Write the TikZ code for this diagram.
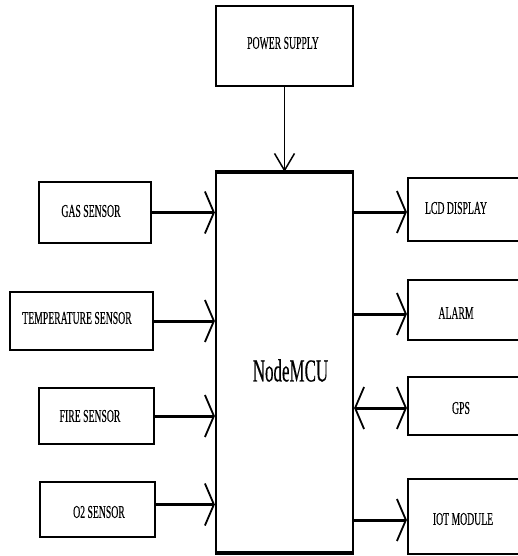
\documentclass[tikz,border=0pt]{standalone}
\usepackage{fontspec}
\setmainfont{Liberation Serif}
\newfontfamily\lblfont{Liberation Serif}[FakeBold=0.4]
\usepackage{graphicx}
\usetikzlibrary{arrows.meta}
\newcommand{\cnd}[1]{\scalebox{0.54}[1]{#1}}
\tikzset{
  box/.style={draw, line width=2.2pt, rectangle, inner sep=0pt, anchor=center},
  lbl/.style={inner sep=0pt, font=\lblfont\fontsize{18}{20}\selectfont},
  barb/.tip={Straight Barb[length=9pt,width=42pt,line width=1.8pt]},
  conn/.style={line width=3pt, -barb},
  biconn/.style={line width=3pt, barb-barb},
  pwr/.style={line width=1.3pt, -{Straight Barb[length=17pt,width=20pt,line width=1.5pt]}}
}
\begin{document}
\begin{tikzpicture}[x=1pt,y=-1pt]
\useasboundingbox (0,0) rectangle (518,556);
\clip (0,0) rectangle (518,556);
% main blocks
\node[box, minimum width=137pt, minimum height=80pt] (power) at (284.5,46) {};
\node[lbl] (powert) at (283,43) {\cnd{POWER SUPPLY}};
\node[box, minimum width=137pt, minimum height=379pt] (mcu) at (284.5,362.5) {};
\draw[line width=4.5pt] (mcu.north west) -- (mcu.north east);
\draw[line width=4.5pt] (mcu.south west) -- (mcu.south east);
\node[inner sep=0pt, font=\lblfont\fontsize{32}{34}\selectfont] (mcut) at (290.5,370.5) {\scalebox{0.53}[1]{NodeMCU}};
% inputs
\node[box, minimum width=112pt, minimum height=61pt] (gas) at (95,212.5) {};
\node[lbl] (gast) at (91,211) {\cnd{GAS SENSOR}};
\node[box, minimum width=143pt, minimum height=58pt] (temp) at (81.5,321) {};
\node[lbl] (tempt) at (77,318) {\cnd{TEMPERATURE SENSOR}};
\node[box, minimum width=115pt, minimum height=56pt] (fire) at (96.5,416) {};
\node[lbl] (firet) at (90,416) {\cnd{FIRE SENSOR}};
\node[box, minimum width=115pt, minimum height=55pt] (otwo) at (97.5,509.5) {};
\node[lbl] (otwot) at (99,512) {\cnd{O2 SENSOR}};
% outputs (boxes run past the right edge)
\node[box, minimum width=130pt, minimum height=63pt] (lcd) at (473,209.5) {};
\node[lbl] (lcdt) at (456,208) {\cnd{LCD DISPLAY}};
\node[box, minimum width=130pt, minimum height=60pt] (alarm) at (473,310) {};
\node[lbl] (alarmt) at (456,313) {\cnd{ALARM}};
\node[box, minimum width=130pt, minimum height=58pt] (gps) at (473,406) {};
\node[lbl] (gpst) at (461,408) {\cnd{GPS}};
\node[box, minimum width=130pt, minimum height=75pt] (iot) at (473,516.5) {};
\node[lbl] (iott) at (463,519) {\cnd{IOT MODULE}};
% connectors
\draw[pwr] (power.south) -- (mcu.north);
\draw[conn] (gas.east) -- (gas.east -| mcu.west);
\draw[conn] (temp.east) -- (temp.east -| mcu.west);
\draw[conn] (fire.east) -- (fire.east -| mcu.west);
\draw[conn] ([yshift=5pt]otwo.east) -- ([yshift=5pt]otwo.east -| mcu.west);
\draw[conn] ([yshift=-2.5pt]lcd.west -| mcu.east) -- ([yshift=-2.5pt]lcd.west);
\draw[conn] ([yshift=-4pt]alarm.west -| mcu.east) -- ([yshift=-4pt]alarm.west);
\draw[biconn] ([yshift=-2pt]gps.west -| mcu.east) -- ([yshift=-2pt]gps.west);
\draw[conn] ([yshift=-3.5pt]iot.west -| mcu.east) -- ([yshift=-3.5pt]iot.west);
\end{tikzpicture}
\end{document}
